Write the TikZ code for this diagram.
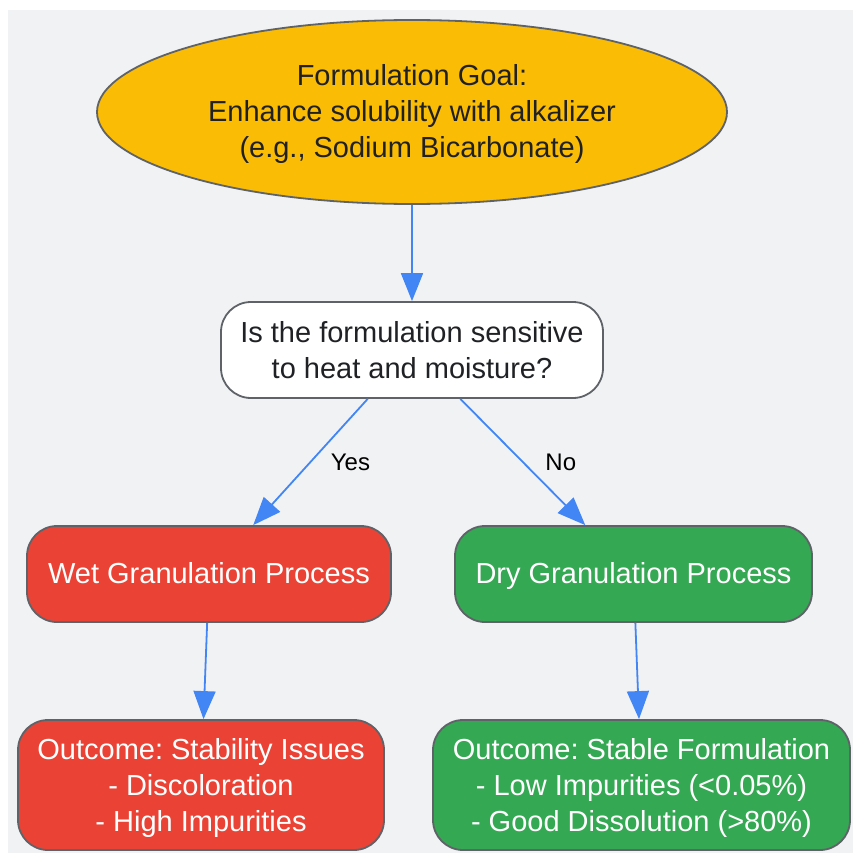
\documentclass[tikz,border=0pt]{standalone}
\usepackage{fontspec}
\setmainfont{Liberation Sans}
\usetikzlibrary{shapes.geometric, arrows.meta}
\frenchspacing

\definecolor{bgcol}{HTML}{F1F2F4}
\definecolor{goalcol}{HTML}{FBBC05}
\definecolor{badcol}{HTML}{EA4335}
\definecolor{goodcol}{HTML}{34A853}
\definecolor{linkcol}{HTML}{4285F4}
\definecolor{edgecol}{HTML}{5F6368}
\definecolor{inkcol}{HTML}{202124}

\newcommand{\topstrut}{\rule{0pt}{27pt}}

\tikzset{
  box/.style={draw=edgecol, line width=1.8pt, rounded corners=30pt,
              align=center, inner sep=0pt,
              font=\fontsize{29}{36}\selectfont,
              execute at begin node=\rule[-7pt]{0pt}{33pt},
              execute at end node=\rule[-7pt]{0pt}{0pt}},
  goalbox/.style={box, ellipse, rounded corners=0pt, fill=goalcol, text=inkcol},
  askbox/.style={box, fill=white, text=inkcol},
  badbox/.style={box, fill=badcol, text=white},
  goodbox/.style={box, fill=goodcol, text=white},
  link/.style={draw=linkcol, line width=1.8pt,
               -{Triangle[length=28pt, width=22pt]}},
  elabel/.style={text=black, font=\fontsize{24}{28}\selectfont}
}

\begin{document}
\begin{tikzpicture}[x=1pt, y=-1pt]
  \useasboundingbox (0,0) rectangle (853,853);
  \fill[bgcol] (8,10) rectangle (853,853); % fond gris

  % noeuds
  \node[goalbox, minimum width=630pt, minimum height=184pt] (goal) at (412,112)
       {\topstrut Formulation Goal:\\Enhance solubility with alkalizer\\(e.g., Sodium Bicarbonate)};
  \node[askbox, minimum width=382pt, minimum height=96pt] (ask) at (412,350)
       {\topstrut Is the formulation sensitive\\to heat and moisture?};
  \node[badbox, minimum width=364pt, minimum height=96pt] (wet) at (209,574)
       {Wet Granulation Process};
  \node[goodbox, minimum width=357pt, minimum height=96pt] (dry) at (633.5,574)
       {Dry Granulation Process};
  \node[badbox, minimum width=366pt, minimum height=130pt] (bad) at (201,785)
       {\topstrut Outcome: Stability Issues\\- Discoloration\\- High Impurities};
  \node[goodbox, minimum width=417pt, minimum height=130pt] (good) at (641.5,785)
       {\topstrut Outcome: Stable Formulation\\- Low Impurities (<0.05\%)\\- Good Dissolution (>80\%)};

  % fleches
  \draw[link] (goal) -- (ask);
  \draw[link] (ask) -- node[elabel, midway, xshift=40pt] {Yes} (wet);
  \draw[link] (ask) -- node[elabel, midway, xshift=38pt] {No} (dry);
  \draw[link] (wet) -- (bad);
  \draw[link] (dry) -- (good);
\end{tikzpicture}
\end{document}
